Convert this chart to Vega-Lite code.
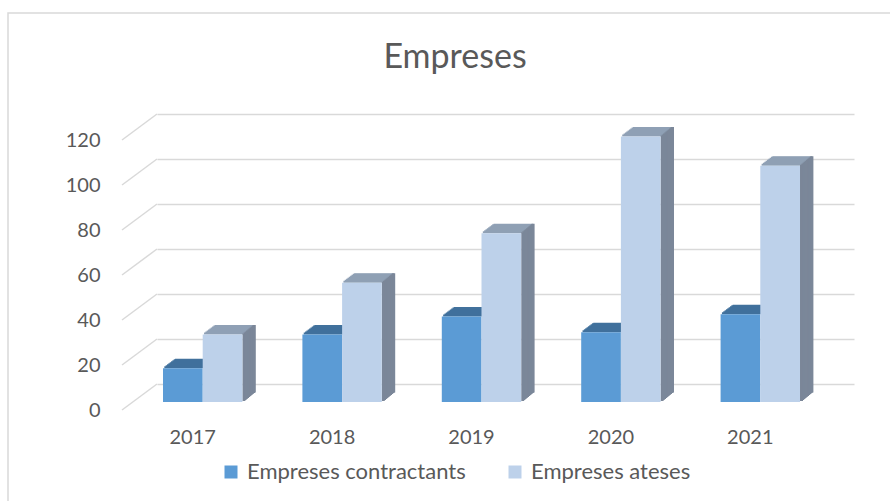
{
  "$schema": "https://vega.github.io/schema/vega-lite/v6.json",
  "width": 882,
  "height": 488,
  "autosize": {"type": "none"},
  "padding": {"left": 8, "top": 13, "right": 0, "bottom": 0},
  "background": "white",
  "config": {
    "view": {"stroke": "#d9d9d9", "strokeWidth": 1.5, "strokeDash": [882, 1370, 488, 10]},
    "font": "Lato"
  },
  "title": {"text": "Empreses", "font": "Lato", "fontSize": 34, "fontWeight": "normal", "color": "#595959", "anchor": "middle", "frame": "group", "offset": -89, "baseline": "alphabetic", "dx": 6},
  "data": {"values": [
    {"year": "2017", "series": "Empreses contractants", "value": 15},
    {"year": "2017", "series": "Empreses ateses", "value": 30},
    {"year": "2018", "series": "Empreses contractants", "value": 30},
    {"year": "2018", "series": "Empreses ateses", "value": 53},
    {"year": "2019", "series": "Empreses contractants", "value": 38},
    {"year": "2019", "series": "Empreses ateses", "value": 75},
    {"year": "2020", "series": "Empreses contractants", "value": 31},
    {"year": "2020", "series": "Empreses ateses", "value": 118},
    {"year": "2021", "series": "Empreses contractants", "value": 39},
    {"year": "2021", "series": "Empreses ateses", "value": 105}
  ]},
  "encoding": {
    "x": {"field": "year", "type": "ordinal",
      "scale": {"range": [149, 846], "paddingInner": 0, "paddingOuter": 0},
      "axis": {"title": null, "offset": -83, "domain": false, "ticks": false, "grid": false, "labelPadding": 9, "labelOffset": -34, "labelFont": "Lato", "labelFontSize": 20, "labelColor": "#595959", "labelAngle": 0}},
    "y": {"field": "value", "type": "quantitative",
      "scale": {"domain": [0, 120], "range": [371, 101], "nice": false, "zero": true},
      "axis": {"title": null, "offset": -149, "domain": false, "ticks": false, "values": [0, 20, 40, 60, 80, 100, 120], "labelPadding": 57, "labelOffset": 26, "labelFont": "Lato", "labelFontSize": 20, "labelColor": "#595959", "grid": true, "gridColor": "#d9d9d9", "gridWidth": 1.5}}
  },
  "layer": [
    {"data": {"values": [{"g": 0}, {"g": 20}, {"g": 40}, {"g": 60}, {"g": 80}, {"g": 100}, {"g": 120}]},
     "mark": {"type": "rule", "color": "#d9d9d9", "strokeWidth": 1.5, "xOffset": -69.7, "x2Offset": -104.7, "y2Offset": 26},
     "encoding": {"x": {"datum": "2017", "type": "ordinal"}, "x2": {"datum": "2017"}, "y": {"field": "g", "type": "quantitative"}, "y2": {"field": "g"}}},

    {"mark": {"type": "tick", "color": "#41719C", "opacity": 1, "size": 39.7, "thickness": 2, "xOffset": -42.51, "yOffset": 17}, "transform": [{"filter": "datum.series === 'Empreses contractants'"}]},
    {"mark": {"type": "tick", "color": "#41719C", "opacity": 1, "size": 39.7, "thickness": 2, "xOffset": -41.17, "yOffset": 16}, "transform": [{"filter": "datum.series === 'Empreses contractants'"}]},
    {"mark": {"type": "tick", "color": "#41719C", "opacity": 1, "size": 39.7, "thickness": 2, "xOffset": -39.83, "yOffset": 15}, "transform": [{"filter": "datum.series === 'Empreses contractants'"}]},
    {"mark": {"type": "tick", "color": "#41719C", "opacity": 1, "size": 39.7, "thickness": 2, "xOffset": -38.49, "yOffset": 14}, "transform": [{"filter": "datum.series === 'Empreses contractants'"}]},
    {"mark": {"type": "tick", "color": "#41719C", "opacity": 1, "size": 39.7, "thickness": 2, "xOffset": -37.15, "yOffset": 13}, "transform": [{"filter": "datum.series === 'Empreses contractants'"}]},
    {"mark": {"type": "tick", "color": "#41719C", "opacity": 1, "size": 39.7, "thickness": 2, "xOffset": -35.81, "yOffset": 12}, "transform": [{"filter": "datum.series === 'Empreses contractants'"}]},
    {"mark": {"type": "tick", "color": "#41719C", "opacity": 1, "size": 39.7, "thickness": 2, "xOffset": -34.47, "yOffset": 11}, "transform": [{"filter": "datum.series === 'Empreses contractants'"}]},
    {"mark": {"type": "tick", "color": "#41719C", "opacity": 1, "size": 39.7, "thickness": 2, "xOffset": -33.13, "yOffset": 10}, "transform": [{"filter": "datum.series === 'Empreses contractants'"}]},
    {"mark": {"type": "tick", "color": "#41719C", "opacity": 1, "size": 39.7, "thickness": 2, "xOffset": -31.79, "yOffset": 9.5}, "transform": [{"filter": "datum.series === 'Empreses contractants'"}]},

    {"mark": {"type": "bar", "width": 39.7, "xOffset": -43.85, "yOffset": 18, "y2Offset": 18},
     "transform": [{"filter": "datum.series === 'Empreses contractants'"}],
     "encoding": {"color": {"field": "series", "type": "nominal",
       "scale": {"domain": ["Empreses contractants", "Empreses ateses"], "range": ["#5B9BD5", "#BDD1EA"]},
       "legend": {"orient": "none", "legendX": 212, "legendY": 448, "direction": "horizontal", "title": null, "symbolType": "square", "symbolSize": 169, "symbolStrokeWidth": 0, "labelFont": "Lato", "labelFontSize": 22, "labelColor": "#595959", "labelLimit": 500, "columnPadding": 38, "labelOffset": 5, "padding": 0}}}},

    {"mark": {"type": "tick", "color": "#8FA0B5", "opacity": 1, "size": 39.7, "thickness": 2, "xOffset": -2.81, "yOffset": 17}, "transform": [{"filter": "datum.series === 'Empreses ateses'"}]},
    {"mark": {"type": "tick", "color": "#8FA0B5", "opacity": 1, "size": 39.7, "thickness": 2, "xOffset": -1.47, "yOffset": 16}, "transform": [{"filter": "datum.series === 'Empreses ateses'"}]},
    {"mark": {"type": "tick", "color": "#8FA0B5", "opacity": 1, "size": 39.7, "thickness": 2, "xOffset": -0.13, "yOffset": 15}, "transform": [{"filter": "datum.series === 'Empreses ateses'"}]},
    {"mark": {"type": "tick", "color": "#8FA0B5", "opacity": 1, "size": 39.7, "thickness": 2, "xOffset": 1.21, "yOffset": 14}, "transform": [{"filter": "datum.series === 'Empreses ateses'"}]},
    {"mark": {"type": "tick", "color": "#8FA0B5", "opacity": 1, "size": 39.7, "thickness": 2, "xOffset": 2.55, "yOffset": 13}, "transform": [{"filter": "datum.series === 'Empreses ateses'"}]},
    {"mark": {"type": "tick", "color": "#8FA0B5", "opacity": 1, "size": 39.7, "thickness": 2, "xOffset": 3.89, "yOffset": 12}, "transform": [{"filter": "datum.series === 'Empreses ateses'"}]},
    {"mark": {"type": "tick", "color": "#8FA0B5", "opacity": 1, "size": 39.7, "thickness": 2, "xOffset": 5.23, "yOffset": 11}, "transform": [{"filter": "datum.series === 'Empreses ateses'"}]},
    {"mark": {"type": "tick", "color": "#8FA0B5", "opacity": 1, "size": 39.7, "thickness": 2, "xOffset": 6.57, "yOffset": 10}, "transform": [{"filter": "datum.series === 'Empreses ateses'"}]},
    {"mark": {"type": "tick", "color": "#8FA0B5", "opacity": 1, "size": 39.7, "thickness": 2, "xOffset": 7.91, "yOffset": 9.5}, "transform": [{"filter": "datum.series === 'Empreses ateses'"}]},

    {"mark": {"type": "rule", "color": "#7B8799", "strokeWidth": 3, "xOffset": 17.2, "yOffset": 17, "y2Offset": 17}, "encoding": {"y2": {"datum": 0}}, "transform": [{"filter": "datum.series === 'Empreses ateses'"}]},
    {"mark": {"type": "rule", "color": "#7B8799", "strokeWidth": 3, "xOffset": 18.4, "yOffset": 16, "y2Offset": 16}, "encoding": {"y2": {"datum": 0}}, "transform": [{"filter": "datum.series === 'Empreses ateses'"}]},
    {"mark": {"type": "rule", "color": "#7B8799", "strokeWidth": 3, "xOffset": 19.6, "yOffset": 15, "y2Offset": 15}, "encoding": {"y2": {"datum": 0}}, "transform": [{"filter": "datum.series === 'Empreses ateses'"}]},
    {"mark": {"type": "rule", "color": "#7B8799", "strokeWidth": 3, "xOffset": 20.8, "yOffset": 14, "y2Offset": 14}, "encoding": {"y2": {"datum": 0}}, "transform": [{"filter": "datum.series === 'Empreses ateses'"}]},
    {"mark": {"type": "rule", "color": "#7B8799", "strokeWidth": 3, "xOffset": 22.0, "yOffset": 13, "y2Offset": 13}, "encoding": {"y2": {"datum": 0}}, "transform": [{"filter": "datum.series === 'Empreses ateses'"}]},
    {"mark": {"type": "rule", "color": "#7B8799", "strokeWidth": 3, "xOffset": 23.2, "yOffset": 12, "y2Offset": 12}, "encoding": {"y2": {"datum": 0}}, "transform": [{"filter": "datum.series === 'Empreses ateses'"}]},
    {"mark": {"type": "rule", "color": "#7B8799", "strokeWidth": 3, "xOffset": 24.4, "yOffset": 11, "y2Offset": 11}, "encoding": {"y2": {"datum": 0}}, "transform": [{"filter": "datum.series === 'Empreses ateses'"}]},
    {"mark": {"type": "rule", "color": "#7B8799", "strokeWidth": 3, "xOffset": 25.6, "yOffset": 10, "y2Offset": 10}, "encoding": {"y2": {"datum": 0}}, "transform": [{"filter": "datum.series === 'Empreses ateses'"}]},
    {"mark": {"type": "rule", "color": "#7B8799", "strokeWidth": 3, "xOffset": 26.8, "yOffset": 9, "y2Offset": 9}, "encoding": {"y2": {"datum": 0}}, "transform": [{"filter": "datum.series === 'Empreses ateses'"}]},
    {"mark": {"type": "rule", "color": "#7B8799", "strokeWidth": 3, "xOffset": 27.6, "yOffset": 8.5, "y2Offset": 8.5}, "encoding": {"y2": {"datum": 0}}, "transform": [{"filter": "datum.series === 'Empreses ateses'"}]},

    {"mark": {"type": "bar", "width": 39.7, "xOffset": -4.15, "yOffset": 18, "y2Offset": 18},
     "transform": [{"filter": "datum.series === 'Empreses ateses'"}],
     "encoding": {"color": {"field": "series", "type": "nominal"}}}
  ]
}
